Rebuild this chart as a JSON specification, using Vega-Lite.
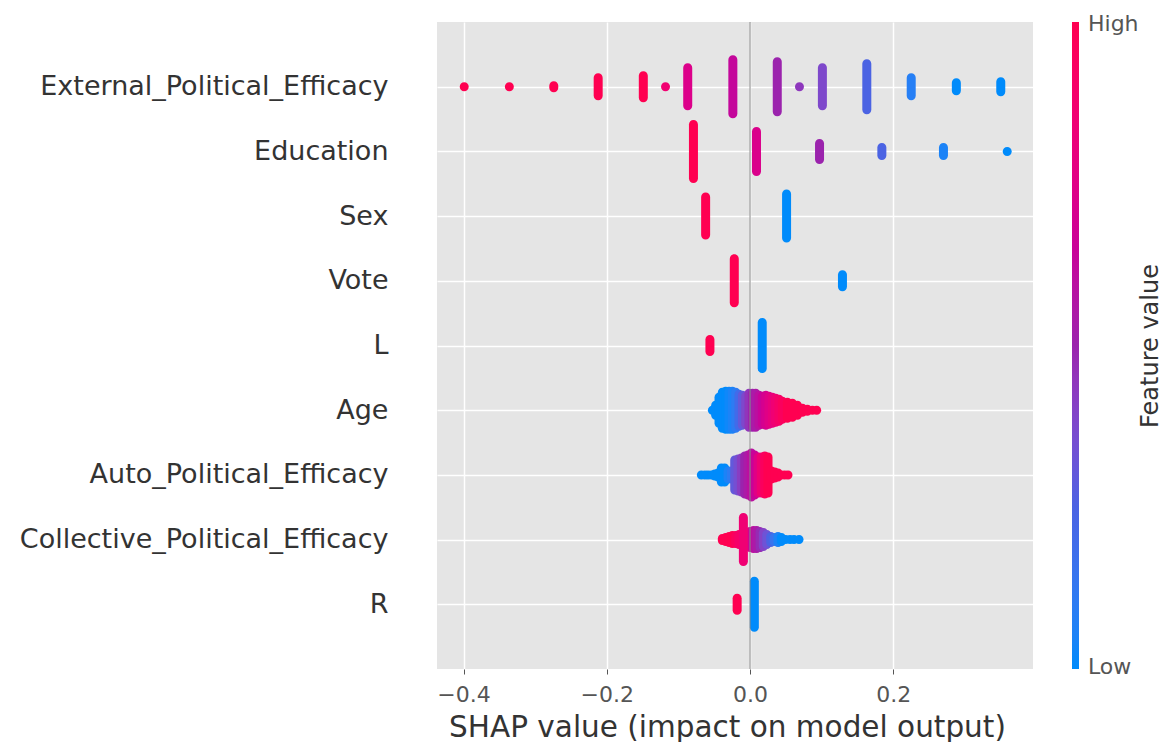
{
  "$schema": "https://vega.github.io/schema/vega-lite/v6.json",
  "width": 596,
  "height": 647,
  "autosize": {"type": "none"},
  "padding": {"left": 437, "top": 22, "right": 129, "bottom": 73},
  "background": "white",
  "config": {
    "view": {"fill": "#e5e5e5", "stroke": null},
    "font": "DejaVu Sans"
  },
  "resolve": {"axis": {"y": "independent"}},
  "datasets": {
    "points": [
      {"feature": "External_Political_Efficacy", "shap": -0.399, "value": 1, "n": 1},
      {"feature": "External_Political_Efficacy", "shap": -0.336, "value": 1, "n": 1},
      {"feature": "External_Political_Efficacy", "shap": -0.274, "value": 1, "n": 2},
      {"feature": "External_Political_Efficacy", "shap": -0.212, "value": 1, "n": 10},
      {"feature": "External_Political_Efficacy", "shap": -0.149, "value": 1, "n": 12},
      {"feature": "External_Political_Efficacy", "shap": -0.118, "value": 0.86, "n": 1},
      {"feature": "External_Political_Efficacy", "shap": -0.087, "value": 0.73, "n": 20},
      {"feature": "External_Political_Efficacy", "shap": -0.024, "value": 0.63, "n": 28},
      {"feature": "External_Political_Efficacy", "shap": 0.038, "value": 0.5, "n": 26},
      {"feature": "External_Political_Efficacy", "shap": 0.069, "value": 0.44, "n": 1},
      {"feature": "External_Political_Efficacy", "shap": 0.101, "value": 0.38, "n": 20},
      {"feature": "External_Political_Efficacy", "shap": 0.163, "value": 0.25, "n": 24},
      {"feature": "External_Political_Efficacy", "shap": 0.225, "value": 0.08, "n": 10},
      {"feature": "External_Political_Efficacy", "shap": 0.288, "value": 0, "n": 5},
      {"feature": "External_Political_Efficacy", "shap": 0.35, "value": 0, "n": 6},

      {"feature": "Education", "shap": -0.079, "value": 1, "n": 28},
      {"feature": "Education", "shap": 0.009, "value": 0.72, "n": 21},
      {"feature": "Education", "shap": 0.097, "value": 0.5, "n": 9},
      {"feature": "Education", "shap": 0.184, "value": 0.25, "n": 5},
      {"feature": "Education", "shap": 0.27, "value": 0.05, "n": 5},
      {"feature": "Education", "shap": 0.359, "value": 0, "n": 1},

      {"feature": "Sex", "shap": -0.062, "value": 1, "n": 20},
      {"feature": "Sex", "shap": 0.051, "value": 0, "n": 23},
      {"feature": "Vote", "shap": -0.022, "value": 1, "n": 23},
      {"feature": "Vote", "shap": 0.129, "value": 0, "n": 7},
      {"feature": "L", "shap": -0.056, "value": 1, "n": 7},
      {"feature": "L", "shap": 0.017, "value": 0, "n": 24},
      {"feature": "R", "shap": -0.018, "value": 1, "n": 7},
      {"feature": "R", "shap": 0.006, "value": 0, "n": 24},

      {"feature": "Age", "shap": -0.0526, "value": 0, "n": 1},
      {"feature": "Age", "shap": -0.048, "value": 0, "n": 6},
      {"feature": "Age", "shap": -0.0433, "value": 0, "n": 14},
      {"feature": "Age", "shap": -0.0387, "value": 0, "n": 19},
      {"feature": "Age", "shap": -0.034, "value": 0, "n": 20},
      {"feature": "Age", "shap": -0.0293, "value": 0.02, "n": 20},
      {"feature": "Age", "shap": -0.0247, "value": 0.05, "n": 20},
      {"feature": "Age", "shap": -0.02, "value": 0.1, "n": 19},
      {"feature": "Age", "shap": -0.0154, "value": 0.2, "n": 17},
      {"feature": "Age", "shap": -0.0107, "value": 0.3, "n": 16},
      {"feature": "Age", "shap": -0.006, "value": 0.38, "n": 15},
      {"feature": "Age", "shap": -0.0014, "value": 0.45, "n": 18},
      {"feature": "Age", "shap": 0.0033, "value": 0.5, "n": 18},
      {"feature": "Age", "shap": 0.0079, "value": 0.55, "n": 18},
      {"feature": "Age", "shap": 0.0126, "value": 0.6, "n": 16},
      {"feature": "Age", "shap": 0.0172, "value": 0.65, "n": 15},
      {"feature": "Age", "shap": 0.0219, "value": 0.7, "n": 16},
      {"feature": "Age", "shap": 0.0265, "value": 0.75, "n": 15},
      {"feature": "Age", "shap": 0.0312, "value": 0.8, "n": 14},
      {"feature": "Age", "shap": 0.0358, "value": 0.85, "n": 13},
      {"feature": "Age", "shap": 0.0405, "value": 0.9, "n": 12},
      {"feature": "Age", "shap": 0.0451, "value": 0.95, "n": 10},
      {"feature": "Age", "shap": 0.0521, "value": 1, "n": 9},
      {"feature": "Age", "shap": 0.0591, "value": 1, "n": 8},
      {"feature": "Age", "shap": 0.0661, "value": 1, "n": 6},
      {"feature": "Age", "shap": 0.0731, "value": 1, "n": 3},
      {"feature": "Age", "shap": 0.08, "value": 1, "n": 2},
      {"feature": "Age", "shap": 0.087, "value": 1, "n": 1},
      {"feature": "Age", "shap": 0.093, "value": 1, "n": 1},

      {"feature": "Auto_Political_Efficacy", "shap": -0.068, "value": 0, "n": 1},
      {"feature": "Auto_Political_Efficacy", "shap": -0.063, "value": 0, "n": 1},
      {"feature": "Auto_Political_Efficacy", "shap": -0.0587, "value": 0, "n": 1},
      {"feature": "Auto_Political_Efficacy", "shap": -0.054, "value": 0, "n": 1},
      {"feature": "Auto_Political_Efficacy", "shap": -0.0493, "value": 0, "n": 2},
      {"feature": "Auto_Political_Efficacy", "shap": -0.0447, "value": 0, "n": 3},
      {"feature": "Auto_Political_Efficacy", "shap": -0.04, "value": 0, "n": 8},
      {"feature": "Auto_Political_Efficacy", "shap": -0.0354, "value": 0, "n": 8},
      {"feature": "Auto_Political_Efficacy", "shap": -0.0307, "value": 0.05, "n": 5},
      {"feature": "Auto_Political_Efficacy", "shap": -0.026, "value": 0.1, "n": 5},
      {"feature": "Auto_Political_Efficacy", "shap": -0.0214, "value": 0.3, "n": 16},
      {"feature": "Auto_Political_Efficacy", "shap": -0.0168, "value": 0.35, "n": 17},
      {"feature": "Auto_Political_Efficacy", "shap": -0.0121, "value": 0.42, "n": 18},
      {"feature": "Auto_Political_Efficacy", "shap": -0.0074, "value": 0.5, "n": 20},
      {"feature": "Auto_Political_Efficacy", "shap": -0.0028, "value": 0.55, "n": 21},
      {"feature": "Auto_Political_Efficacy", "shap": 0.0019, "value": 0.6, "n": 23},
      {"feature": "Auto_Political_Efficacy", "shap": 0.0065, "value": 0.65, "n": 21},
      {"feature": "Auto_Political_Efficacy", "shap": 0.0112, "value": 0.75, "n": 19},
      {"feature": "Auto_Political_Efficacy", "shap": 0.0158, "value": 0.85, "n": 19},
      {"feature": "Auto_Political_Efficacy", "shap": 0.0205, "value": 0.95, "n": 20},
      {"feature": "Auto_Political_Efficacy", "shap": 0.0251, "value": 1, "n": 19},
      {"feature": "Auto_Political_Efficacy", "shap": 0.0298, "value": 1, "n": 5},
      {"feature": "Auto_Political_Efficacy", "shap": 0.0345, "value": 1, "n": 4},
      {"feature": "Auto_Political_Efficacy", "shap": 0.0391, "value": 1, "n": 3},
      {"feature": "Auto_Political_Efficacy", "shap": 0.0437, "value": 1, "n": 1},
      {"feature": "Auto_Political_Efficacy", "shap": 0.0484, "value": 1, "n": 1},
      {"feature": "Auto_Political_Efficacy", "shap": 0.053, "value": 1, "n": 1},

      {"feature": "Collective_Political_Efficacy", "shap": -0.0387, "value": 1, "n": 2},
      {"feature": "Collective_Political_Efficacy", "shap": -0.034, "value": 1, "n": 3},
      {"feature": "Collective_Political_Efficacy", "shap": -0.0293, "value": 1, "n": 4},
      {"feature": "Collective_Political_Efficacy", "shap": -0.0247, "value": 1, "n": 5},
      {"feature": "Collective_Political_Efficacy", "shap": -0.02, "value": 0.95, "n": 5},
      {"feature": "Collective_Political_Efficacy", "shap": -0.0154, "value": 0.9, "n": 6},
      {"feature": "Collective_Political_Efficacy", "shap": -0.0047, "value": 0.75, "n": 7},
      {"feature": "Collective_Political_Efficacy", "shap": 0.0, "value": 0.68, "n": 9},
      {"feature": "Collective_Political_Efficacy", "shap": 0.0047, "value": 0.6, "n": 10},
      {"feature": "Collective_Political_Efficacy", "shap": 0.0093, "value": 0.55, "n": 10},
      {"feature": "Collective_Political_Efficacy", "shap": 0.014, "value": 0.48, "n": 9},
      {"feature": "Collective_Political_Efficacy", "shap": 0.0186, "value": 0.4, "n": 8},
      {"feature": "Collective_Political_Efficacy", "shap": 0.0233, "value": 0.33, "n": 6},
      {"feature": "Collective_Political_Efficacy", "shap": 0.0289, "value": 0.25, "n": 4},
      {"feature": "Collective_Political_Efficacy", "shap": 0.0335, "value": 0.15, "n": 3},
      {"feature": "Collective_Political_Efficacy", "shap": 0.039, "value": 0.05, "n": 4},
      {"feature": "Collective_Political_Efficacy", "shap": 0.0437, "value": 0, "n": 3},
      {"feature": "Collective_Political_Efficacy", "shap": 0.0498, "value": 0, "n": 1},
      {"feature": "Collective_Political_Efficacy", "shap": 0.0559, "value": 0, "n": 1},
      {"feature": "Collective_Political_Efficacy", "shap": 0.0614, "value": 0, "n": 1},
      {"feature": "Collective_Political_Efficacy", "shap": 0.0684, "value": 0, "n": 1},
      {"feature": "Collective_Political_Efficacy", "shap": -0.0093, "value": 0.85, "n": 23}
    ],
    "zero": [{"ref": 0}]
  },
  "layer": [
    {
      "data": {"name": "points"},
      "mark": {"type": "tick", "thickness": 9, "cornerRadius": 4.5, "opacity": 1},
      "encoding": {
        "x": {
          "field": "shap",
          "type": "quantitative",
          "scale": {"domain": [-0.437, 0.395], "nice": false, "zero": false},
          "axis": {
            "title": "SHAP value (impact on model output)",
            "values": [-0.4, -0.2, 0, 0.2],
            "format": ".1f",
            "grid": true,
            "gridColor": "white",
            "gridWidth": 1.5,
            "domain": false,
            "ticks": true,
            "tickColor": "#555555",
            "tickSize": 5,
            "tickWidth": 1,
            "labelFontSize": 22,
            "labelColor": "#555555",
            "labelPadding": 10,
            "titleFontSize": 29.5,
            "titleFontWeight": "normal",
            "titleColor": "#333333",
            "titleX": 290,
            "titleY": 58,
            "titleAlign": "center",
            "titleBaseline": "middle"
          }
        },
        "y": {
          "field": "feature",
          "type": "nominal",
          "sort": ["External_Political_Efficacy", "Education", "Sex", "Vote", "L", "Age", "Auto_Political_Efficacy", "Collective_Political_Efficacy", "R"],
          "scale": {"type": "point", "padding": 1},
          "axis": {
            "title": null,
            "grid": true,
            "gridColor": "white",
            "gridWidth": 1.5,
            "domain": false,
            "ticks": false,
            "labelFontSize": 27,
            "labelColor": "#333333",
            "labelPadding": 49,
            "labelLimit": 0
          }
        },
        "size": {
          "field": "n",
          "type": "quantitative",
          "scale": {"domain": [1, 41], "range": [9, 89], "zero": false},
          "legend": null
        },
        "color": {
          "field": "value",
          "type": "quantitative",
          "scale": {
            "domain": [0, 0.25, 0.5, 0.75, 1],
            "range": ["#008bfb", "#4b63e3", "#9b23ad", "#e00086", "#ff0051"],
            "interpolate": "hcl"
          },
          "legend": {
            "orient": "none",
            "legendX": 635,
            "legendY": 0,
            "direction": "vertical",
            "gradientLength": 647,
            "gradientThickness": 7,
            "gradientStrokeWidth": 0,
            "values": [0.003, 0.997],
            "labelExpr": "datum.value > 0.5 ? 'High' : 'Low'",
            "labelFontSize": 22,
            "labelColor": "#555555",
            "labelOffset": 9,
            "title": null
          }
        }
      }
    },
    {
      "data": {"name": "zero"},
      "mark": {"type": "rule", "color": "#888888", "strokeWidth": 1},
      "encoding": {"x": {"field": "ref", "type": "quantitative"}}
    },
    {
      "data": {"name": "points"},
      "mark": {"type": "tick", "opacity": 0, "thickness": 1},
      "encoding": {
        "x": {"field": "shap", "type": "quantitative"},
        "y": {
          "field": "feature",
          "type": "nominal",
          "sort": ["External_Political_Efficacy", "Education", "Sex", "Vote", "L", "Age", "Auto_Political_Efficacy", "Collective_Political_Efficacy", "R"],
          "axis": {
            "orient": "right",
            "title": "Feature value",
            "labels": false,
            "ticks": false,
            "domain": false,
            "grid": false,
            "titleAngle": 270,
            "titleX": 117,
            "titleY": 323.5,
            "titleAlign": "center",
            "titleBaseline": "middle",
            "titleFontSize": 24,
            "titleFontWeight": "normal",
            "titleColor": "#333333"
          }
        }
      }
    }
  ]
}
